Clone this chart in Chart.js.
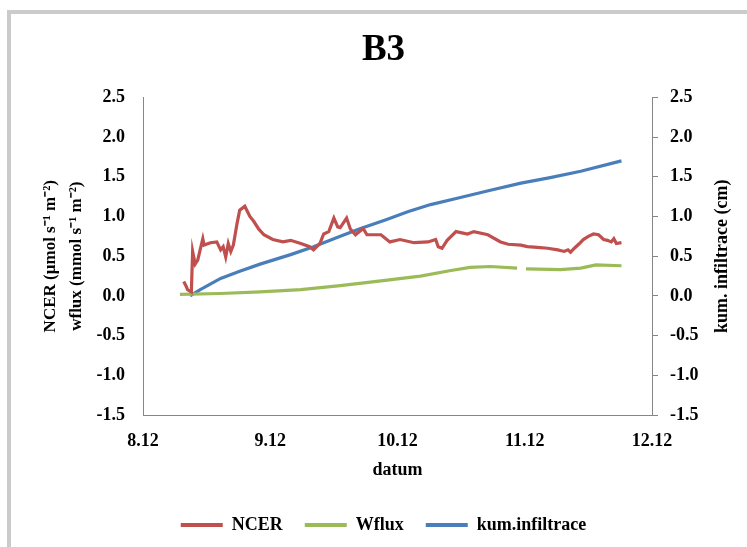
<!DOCTYPE html>
<html>
<head>
<meta charset="utf-8">
<script src="https://cdn.jsdelivr.net/npm/chart.js@4.4.0/dist/chart.umd.min.js"></script>
<style>
  body { margin: 0; background: #fff; }
  #wrap { position: relative; width: 747px; height: 547px; overflow: hidden; }
  #frame { position: absolute; left: 7px; top: 10px; right: -10px; bottom: -10px;
           border-left: 4px solid #cbcbcb; border-top: 4px solid #cbcbcb; pointer-events: none; }
</style>
</head>
<body>
<div id="wrap">
  <canvas id="c" width="747" height="547"></canvas>
  <div id="frame"></div>
</div>
<script>
const xLabels = ['8.12', '9.12', '10.12', '11.12', '12.12'];

const ncerX = [0.32, 0.34, 0.35, 0.38, 0.39, 0.41, 0.43, 0.47, 0.48, 0.53, 0.58, 0.61, 0.63, 0.65, 0.67, 0.69, 0.71, 0.74, 0.76, 0.80,
  0.84, 0.87, 0.91, 0.95, 1.02, 1.10, 1.16, 1.24, 1.31, 1.34, 1.39, 1.42, 1.46, 1.50, 1.53, 1.55, 1.60, 1.63, 1.67, 1.73,
  1.76, 1.87, 1.94, 2.02, 2.13, 2.24, 2.30, 2.32, 2.35, 2.39, 2.46, 2.55, 2.60, 2.71, 2.81, 2.87, 2.97, 3.02, 3.10, 3.18,
  3.26, 3.31, 3.34, 3.36, 3.39, 3.43, 3.46, 3.50, 3.54, 3.58, 3.62, 3.65, 3.68, 3.70, 3.72, 3.76];
const ncerY = [0.18, 0.12, 0.08, 0.05, 0.56, 0.40, 0.45, 0.72, 0.64, 0.67, 0.68, 0.58, 0.62, 0.49, 0.66, 0.56, 0.64, 0.92, 1.08, 1.13,
  1.00, 0.94, 0.84, 0.77, 0.71, 0.68, 0.70, 0.66, 0.62, 0.58, 0.66, 0.78, 0.81, 0.98, 0.87, 0.86, 0.98, 0.84, 0.77, 0.85,
  0.77, 0.77, 0.68, 0.71, 0.67, 0.68, 0.71, 0.62, 0.60, 0.70, 0.81, 0.78, 0.81, 0.77, 0.68, 0.65, 0.64, 0.62, 0.61, 0.60,
  0.58, 0.56, 0.58, 0.55, 0.60, 0.66, 0.71, 0.75, 0.78, 0.77, 0.71, 0.70, 0.68, 0.72, 0.66, 0.67];

const wfluxX = [0.29, 0.61, 0.92, 1.24, 1.55, 1.87, 2.18, 2.42, 2.57, 2.73, 2.94, 2.97, 3.01, 3.28, 3.44, 3.56, 3.76];
const wfluxY = [0.02, 0.03, 0.05, 0.08, 0.13, 0.19, 0.25, 0.32, 0.36, 0.37, 0.35, null, 0.34, 0.33, 0.35, 0.39, 0.38];

const infX = [0.37, 0.45, 0.61, 0.76, 0.92, 1.16, 1.34, 1.55, 1.71, 1.91, 2.08, 2.26, 2.47, 2.73, 2.97, 3.20, 3.44, 3.76];
const infY = [0.00, 0.08, 0.22, 0.31, 0.40, 0.52, 0.62, 0.75, 0.85, 0.96, 1.06, 1.15, 1.23, 1.33, 1.42, 1.49, 1.57, 1.70];

const pts = (xs, ys) => xs.map((x, i) => ({ x, y: ys[i] }));
const serif = '"Liberation Serif", "Times New Roman", serif';

const rightTitle = {
  id: 'rightTitle',
  afterDraw(chart) {
    const { ctx, chartArea } = chart;
    ctx.save();
    ctx.translate(722, (chartArea.top + chartArea.bottom) / 2);
    ctx.rotate(-Math.PI / 2);
    ctx.font = 'bold 18px ' + serif;
    ctx.fillStyle = '#000';
    ctx.textAlign = 'center';
    ctx.textBaseline = 'middle';
    ctx.fillText('kum. infiltrace (cm)', 0, 0);
    ctx.restore();
  }
};

new Chart(document.getElementById('c'), {
  type: 'line',
  data: {
    datasets: [
      { label: 'NCER', data: pts(ncerX, ncerY), borderColor: '#C0504D', backgroundColor: '#C0504D', yAxisID: 'y' },
      { label: 'Wflux', data: pts(wfluxX, wfluxY), borderColor: '#9BBB59', backgroundColor: '#9BBB59', yAxisID: 'y', spanGaps: false },
      { label: 'kum.infiltrace', data: pts(infX, infY), borderColor: '#4A7EBB', backgroundColor: '#4A7EBB', yAxisID: 'y2' }
    ]
  },
  options: {
    responsive: false,
    animation: false,
    layout: { padding: { left: 20, top: 0, bottom: 3, right: 0 } },
    elements: { point: { radius: 0 }, line: { borderWidth: 3.2, tension: 0 } },
    plugins: {
      title: {
        display: true, text: 'B3', color: '#000',
        font: { family: serif, size: 37, weight: 'bold' },
        padding: { top: 28, bottom: 25 }
      },
      legend: {
        position: 'bottom',
        labels: {
          color: '#000', boxWidth: 42, boxHeight: 4, padding: 22,
          font: { family: serif, size: 18, weight: 'bold' },
          generateLabels: (chart) => Chart.defaults.plugins.legend.labels.generateLabels(chart).map(l => ({ ...l, lineWidth: 0 }))
        }
      },
      tooltip: { enabled: false }
    },
    scales: {
      x: {
        type: 'linear', min: 0, max: 4,
        afterFit: (s) => { s.height = 79; },
        grid: { display: false },
        border: { display: true, color: '#868686' },
        ticks: {
          stepSize: 1, padding: 8, color: '#000',
          font: { family: serif, size: 18, weight: 'bold' },
          callback: (v) => xLabels[v]
        },
        title: {
          display: true, text: 'datum', color: '#000',
          font: { family: serif, size: 18, weight: 'bold' },
          padding: { top: 0, bottom: 13 }
        }
      },
      y: {
        position: 'left', min: -1.5, max: 2.5,
        afterFit: (s) => { s.width = 123; },
        grid: { drawOnChartArea: false, drawTicks: false },
        border: { display: true, color: '#868686' },
        ticks: {
          stepSize: 0.5, padding: 18, color: '#000',
          font: { family: serif, size: 18, weight: 'bold' },
          callback: (v) => v.toFixed(1)
        },
        title: {
          display: true, color: '#000',
          text: ['NCER (µmol s⁻¹ m⁻²)', 'wflux (mmol s⁻¹ m⁻²)'],
          font: { family: serif, size: 17, weight: 'bold', lineHeight: 1.55 },
          padding: { top: 17, bottom: 0 }
        }
      },
      y2: {
        position: 'right', min: -1.5, max: 2.5,
        afterFit: (s) => { s.width = 95; },
        grid: { drawOnChartArea: false, drawTicks: true, tickLength: 6, color: '#868686' },
        border: { display: true, color: '#868686' },
        ticks: {
          stepSize: 0.5, padding: 12, color: '#000',
          font: { family: serif, size: 18, weight: 'bold' },
          callback: (v) => v.toFixed(1)
        }
      }
    }
  },
  plugins: [rightTitle]
});
</script>
</body>
</html>
